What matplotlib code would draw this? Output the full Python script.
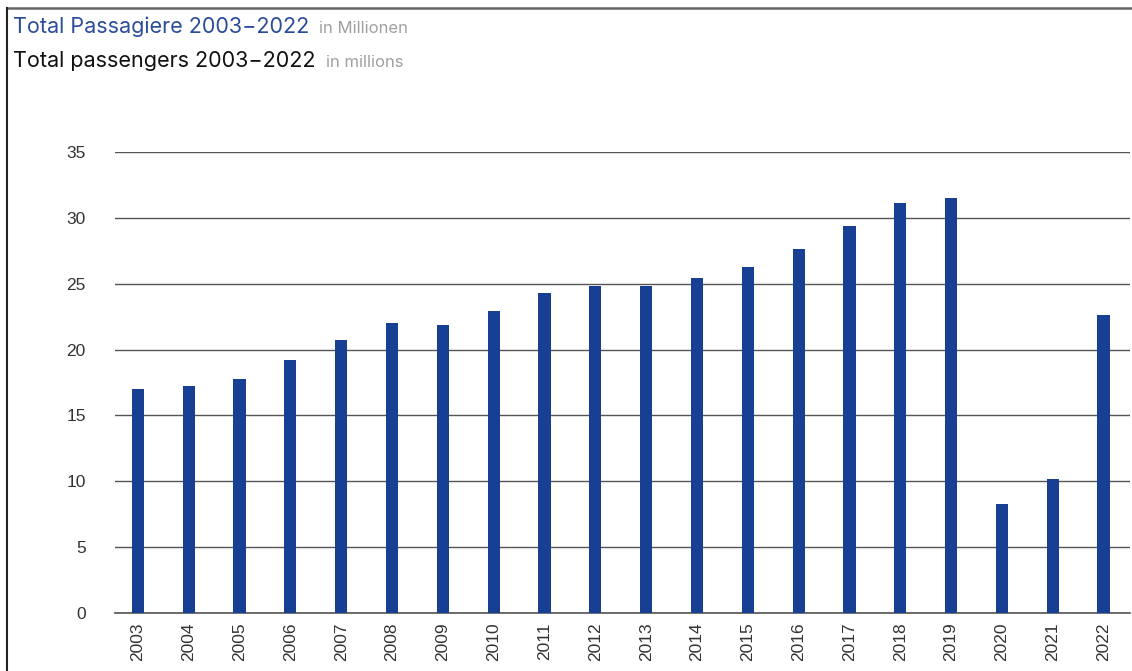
import matplotlib.pyplot as plt
from matplotlib.lines import Line2D

years = [str(y) for y in range(2003, 2023)]
passengers = [17.0, 17.2, 17.8, 19.2, 20.7, 22.0, 21.9, 22.9, 24.3, 24.8,
              24.8, 25.4, 26.3, 27.6, 29.4, 31.1, 31.5, 8.3, 10.2, 22.6]
yticks = [0, 5, 10, 15, 20, 25, 30, 35]

bar_color = '#173f94'
grid_color = '#555555'
text_color = '#333333'

plt.rcParams['font.family'] = ['Inter', 'DejaVu Sans']

W, H = 1132, 671
fig = plt.figure(figsize=(W / 100, H / 100), dpi=100)
ax = fig.add_axes([115 / W, 58 / H, (1130 - 115) / W, (613 - 152) / H])

x = list(range(len(years)))
ax.bar(x, passengers, width=0.24, color=bar_color, zorder=3)

tick_font = dict(fontsize=12.5, color=text_color, family='Liberation Sans')
ax.set_ylim(0, 35)
ax.set_xlim(-0.45, 19.52)
ax.set_yticks(yticks)
ax.set_yticklabels([str(t) for t in yticks], **tick_font)
ax.set_xticks(x)
ax.set_xticklabels(years, rotation=90, va='top', **tick_font)
ax.tick_params(axis='both', length=0)
ax.tick_params(axis='y', pad=21)
ax.tick_params(axis='x', pad=7)
ax.yaxis.grid(True, color=grid_color, linewidth=1.0, zorder=0)
for s in ['top', 'right', 'left']:
    ax.spines[s].set_visible(False)
ax.spines['bottom'].set_color(grid_color)
ax.spines['bottom'].set_linewidth(1.2)

# titles, grey unit text placed right after each title
renderer = fig.canvas.get_renderer()
titles = [('Total Passagiere 2003\u22122022', '#2b4c9b', 'in Millionen', 33),
          ('Total passengers 2003\u22122022', '#111111', 'in millions', 67)]
for title, col, unit, base in titles:
    t = fig.text(13 / W, 1 - base / H, title, fontsize=15.5, color=col,
                 ha='left', va='baseline')
    x_end = t.get_window_extent(renderer).x1
    fig.text((x_end + 10) / W, 1 - base / H, unit, fontsize=12,
             color='#a0a0a0', ha='left', va='baseline')

# frame lines (top and left)
fig.add_artist(Line2D([7 / W, 1.0], [1 - 7.5 / H, 1 - 7.5 / H],
                      color='#666666', linewidth=1.8, transform=fig.transFigure))
fig.add_artist(Line2D([6.5 / W, 6.5 / W], [0, 1 - 7.5 / H],
                      color='#222222', linewidth=1.5, transform=fig.transFigure))

fig.savefig('out.png', dpi=100)
